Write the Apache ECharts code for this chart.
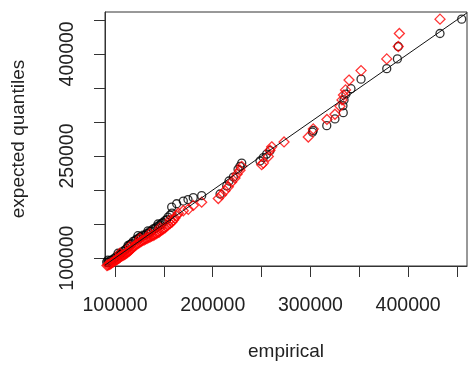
<!DOCTYPE html>
<html><head><meta charset="utf-8">
<script src="https://cdn.jsdelivr.net/npm/echarts@6/dist/echarts.min.js"></script>
<style>html,body{margin:0;padding:0;background:#fff}#c{width:469px;height:366px}</style>
</head><body><div id="c"></div>
<script>
// axis ranges and ticks
const xRange = [89770, 460235];
const yRange = [88500, 461475];
const xTicks = [100000, 150000, 200000, 250000, 300000, 350000, 400000, 450000];
const xTickLabels = [100000, 200000, 300000, 400000];
const yTicks = [100000, 150000, 200000, 250000, 300000, 350000, 400000, 450000];
const yTickLabels = [100000, 250000, 400000];

// black circles: empirical vs expected quantiles
const blackX = [454800,432600,389900,389000,378100,351800,341500,336400,334400,333300,333600,325100,316700,302900,302100,
  258600,255200,251800,248400,229700,227900,225900,221100,216700,214300,207500,188700,180100,174700,169900,163100,158000,
  156300,152900,149100,146100,142700,139200,135800,132400,128700,125600,122200,118700,115400,112000,108200,105100,101700,
  98300,94900,91500,144000,133800,123500,113300,103100,92800,
  158300,154200,151200,147600,144500,140900,137400,134300,130700,127100,124000,120500,116900,113800,110200,106700,103600,
  100000,96400,92800];
const blackY = [451000,429900,410800,392600,378300,362900,348900,341000,332400,323800,313700,304400,294600,287500,285000,
  257800,252800,247700,242700,239600,234800,230500,219100,213300,206100,194200,191800,188900,186100,183900,179900,175000,
  163100,156400,152400,148800,145900,143000,139400,135900,133700,131100,128000,124800,120100,114300,110000,105700,102200,
  98600,96400,94300,150200,140200,133000,118600,107200,97100,
  166000,160200,155200,150900,147300,143700,140200,136600,133700,131600,128700,125800,121500,117200,112200,107900,104300,
  100700,97100,93500];

// red diamonds
const redX = [432600,391000,389900,378100,351800,339500,335900,333800,332300,330300,325100,316900,302900,297800,273000,
  260400,258600,256900,251800,250100,229700,227900,224900,222800,219400,216000,212600,209200,205700,188700,180100,175000,
  169900,164800,161400,158300,154200,151200,148100,145000,142000,138900,135800,132700,129700,126600,123500,120500,118400,
  116400,114300,112300,110200,108200,106100,104100,102000,100000,98000,95900,93900,91800,156300,146100,135800,125600,115400,105100,
  162900,159900,156300,152700,149600,146600,143500,140400,137400,134300,131200,128100,125100,122000,119400,117400,115400,
  113300,111300,109200,107200,105100,103100,101000,99000,96900,94900,92800];
const redY = [451000,429900,410800,392600,375400,361500,347100,339500,332400,323000,311300,303700,289800,277900,270700,
  263500,258500,249200,239600,237300,234800,229100,223400,217600,211900,204700,199000,193200,187500,182200,177500,171700,
  169600,166000,158800,153100,148800,144500,141600,138000,135900,133000,130800,128700,126500,124400,121500,118600,115800,
  112900,110000,107900,105700,104300,102900,100000,97800,96400,94300,92100,90700,89200,155900,144500,135900,128700,117200,107200,
  162400,155900,150900,146600,143000,140200,137300,134400,132300,130100,128000,125800,123000,120100,117200,114300,111500,
  109300,107200,105000,103600,101400,99300,97100,95700,93500,91400,90000];

const zip = (a, b) => a.map((v, i) => [v, b[i]]);
const font = 'Liberation Sans, Arial, sans-serif';

const chart = echarts.init(document.getElementById('c'), null, {renderer: 'canvas'});
chart.setOption({
  animation: false,
  backgroundColor: '#fff',
  grid: {left: 105, right: 2, top: 12, bottom: 94, show: true, borderColor: '#333', borderWidth: 1, backgroundColor: 'transparent'},
  xAxis: {
    type: 'value', min: xRange[0], max: xRange[1],
    name: 'empirical', nameLocation: 'middle', nameGap: 76,
    nameTextStyle: {fontFamily: font, fontSize: 19, color: '#222'},
    axisLine: {show: true, lineStyle: {color: '#333', width: 1}},
    axisTick: {show: true, length: 11, lineStyle: {color: '#333', width: 1}, customValues: xTicks},
    axisLabel: {show: true, margin: 30, fontFamily: font, fontSize: 19.5, color: '#222', customValues: xTickLabels, formatter: v => String(v)},
    splitLine: {show: false}
  },
  yAxis: {
    type: 'value', min: yRange[0], max: yRange[1],
    name: 'expected quantiles', nameLocation: 'middle', nameGap: 77,
    nameTextStyle: {fontFamily: font, fontSize: 19, color: '#222'},
    axisLine: {show: true, lineStyle: {color: '#333', width: 1}},
    axisTick: {show: true, length: 11, lineStyle: {color: '#333', width: 1}, customValues: yTicks},
    axisLabel: {show: true, margin: 27, rotate: 90, fontFamily: font, fontSize: 19.5, color: '#222', customValues: yTickLabels, formatter: v => String(v)},
    splitLine: {show: false}
  },
  series: [
    {
      type: 'scatter', data: zip(blackX, blackY), symbol: 'circle', symbolSize: 8,
      itemStyle: {color: 'rgba(0,0,0,0)', borderColor: '#000', borderWidth: 1.3}, z: 2
    },
    {
      type: 'scatter', data: zip(redX, redY), symbol: 'diamond', symbolSize: 10,
      itemStyle: {color: 'rgba(0,0,0,0)', borderColor: '#ff0000', borderWidth: 1.3}, z: 3
    },
    {
      type: 'line', data: [[xRange[0], xRange[0]], [xRange[1], xRange[1]]], symbol: 'none',
      lineStyle: {color: '#111', width: 1}, z: 4, silent: true
    }
  ]
});
</script></body></html>
